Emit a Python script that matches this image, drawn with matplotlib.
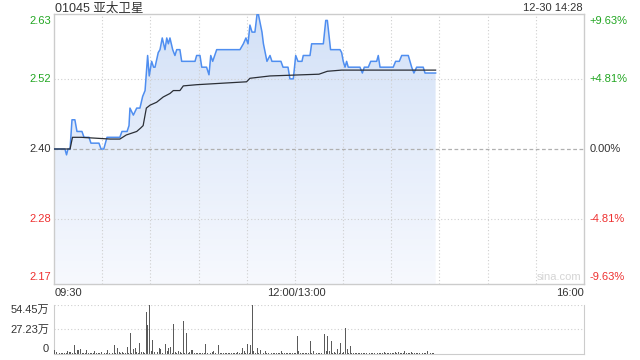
import matplotlib.pyplot as plt
import numpy as np
from matplotlib.colors import LinearSegmentedColormap

plt.rcParams['font.family'] = ['Liberation Sans', 'Noto Sans CJK SC']

title = '01045 亚太卫星'
stamp = '12-30 14:28'
prev_close = 2.40
price_ticks = [2.63, 2.52, 2.40, 2.28, 2.17]
pct_labels = ['+9.63%', '+4.81%', '0.00%', '-4.81%', '-9.63%']
time_labels = ['09:30', '12:00/13:00', '16:00']

# minutes from 09:30 (lunch break removed), price in HKD
price_t = [0, 6.8, 7.8, 8.7, 10, 11.2, 13, 14.3, 17.4, 18.7, 21.8, 23, 28, 29.3, 31, 33,
           41, 42.3, 45.5, 46.7, 47.3, 49.4, 51.5, 53.5, 55.2, 56.7, 58.3, 59.3, 60.8, 62,
           62.9, 64.9, 66, 67.4, 69.1, 70.2, 71.2, 72.2, 73.9, 75.3, 76.4, 78.4, 79.5, 87.8,
           88.8, 90.9, 92, 95, 96.5, 97.6, 98.8, 101.3, 115.8, 117.9, 119.5, 120.8, 122,
           123.3, 125.1, 126.4, 127.3, 129.5, 130.4, 132.6, 134.5, 135.7, 141.3, 142.6, 145.7,
           146.9, 149, 150.5, 151.9, 154.4, 155.2, 159.4, 160.4, 167.7, 169.2, 170.2, 172.2,
           178.1, 179.1, 180.1, 181.2, 182.2, 183.2, 190.5, 192, 193.2, 195.7, 197.2, 200.9,
           201.9, 203, 211.2, 212.7, 215, 216.5, 220.6, 222.7, 224.1, 225.8, 229.9, 231, 237.6]
price_v = [2.40, 2.40, 2.39, 2.40, 2.40, 2.45, 2.45, 2.43, 2.43, 2.42, 2.42, 2.41, 2.41, 2.40, 2.40, 2.42,
           2.42, 2.43, 2.43, 2.44, 2.47, 2.458, 2.47, 2.47, 2.49, 2.50, 2.56, 2.525, 2.55, 2.54,
           2.54, 2.565, 2.57, 2.59, 2.57, 2.59, 2.58, 2.59, 2.57, 2.56, 2.57, 2.57, 2.55, 2.55,
           2.56, 2.56, 2.54, 2.54, 2.527, 2.56, 2.55, 2.57, 2.57, 2.58, 2.59, 2.58, 2.612,
           2.60, 2.60, 2.63, 2.63, 2.60, 2.58, 2.55, 2.56, 2.55, 2.55, 2.54, 2.54,
           2.52, 2.52, 2.56, 2.55, 2.55, 2.56, 2.56, 2.58, 2.58, 2.62, 2.62, 2.57,
           2.57, 2.565, 2.55, 2.54, 2.55, 2.54, 2.54, 2.53, 2.54, 2.54, 2.55, 2.55,
           2.56, 2.54, 2.54, 2.55, 2.55, 2.56, 2.56, 2.54, 2.53, 2.54, 2.54, 2.53, 2.53]

avg_t = [0, 10, 11.5, 17, 35, 41, 45, 51.5, 54, 55.5, 57.5, 59.8, 63.9, 68, 72.2, 74.3,
         78.4, 80.5, 88.8, 119.9, 122, 134.5, 165, 170.2, 179.1, 237.6]
avg_v = [2.40, 2.40, 2.42, 2.42, 2.417, 2.417, 2.424, 2.43, 2.436, 2.44, 2.47, 2.475, 2.48, 2.489, 2.495, 2.50,
         2.50, 2.508, 2.51, 2.515, 2.521, 2.525, 2.528, 2.533, 2.535, 2.535]

# volume per minute, in 万 shares
volume = [5, 2, 2, 0.8, 1.5, 0.8, 1.5, 0.8, 3, 2.5, 2.5, 0.8, 10, 0.8, 4, 5, 6, 0.8, 1.5, 0.8,
          5, 0.8, 1.5, 0.8, 0.8, 3, 0.8, 1.5, 0.8, 2.5, 0.8, 1.5, 0.8, 5, 0.8, 2, 0.8, 10, 0.8, 7,
          2, 0.8, 2, 0.8, 0.8, 8, 0.8, 23.7, 0.8, 6, 7, 2, 0.8, 12, 2, 2, 0.8, 47, 32, 54.45,
          3, 16, 2, 1.5, 2, 7, 6, 0.8, 12.7, 11, 3, 7, 8, 0.8, 33.3, 2, 0.8, 3, 2, 0.8,
          36.7, 0.8, 23.7, 0.8, 2, 5, 4, 0.8, 1, 1, 0.8, 1, 1.5, 0.8, 11, 0.8, 2, 0.8, 2, 3,
          0.8, 0.8, 10, 1.5, 0.8, 1, 0.8, 0.8, 1, 0.8, 1, 1, 0.8, 0.8, 2, 0.8, 0.8, 7, 3, 0.8,
          11, 0.8, 10, 54.45, 3, 0.8, 7, 0.8, 4, 5, 0.8, 3, 0.8, 1.5, 2, 0.8, 1, 0.8, 1, 0.8,
          0.8, 3, 0.8, 1, 0.8, 0.8, 1, 0.8, 0.8, 1.5, 0.8, 20, 3, 0.8, 1.5, 0.8, 1.5, 0.8, 0.8, 14.4,
          0.8, 3, 1, 0.8, 1, 0.8, 0.8, 0.8, 22, 3, 19.5, 3, 14, 0.8, 2, 0.8, 6, 0.8, 12.7, 0.8,
          2, 28.5, 6, 0.8, 8.6, 0.8, 1.5, 0.8, 1, 0.8, 1, 0.8, 0.8, 1, 0.8, 1.5, 0.8, 1, 0.8, 0.8,
          1.5, 0.8, 1, 0.8, 0.8, 2, 0.8, 0.8, 1.5, 0.8, 0.8, 1, 2, 0.8, 2, 0.8, 1.5, 0.8, 3, 0.8,
          0.8, 0.8, 2, 0.8, 1, 0.8, 0.8, 1, 0.8, 0.8, 0.8, 1, 3, 2, 1, 0.8, 1]
vol_ticks = [54.45, 27.23, 0]
vol_labels = ['54.45万', '27.23万', '0']

green = '#22a622'
red = '#ee3030'
dark = '#333333'
grid = '#cfcfcf'

fig = plt.figure(figsize=(6.4, 3.6), dpi=100)
W, H = 640, 360


def box(l, t, r, b):
    return [l / W, 1 - b / H, (r - l) / W, (b - t) / H]


ax = fig.add_axes(box(54, 14, 584, 284))
ax.set_xticks([])
ax.set_yticks([])
for s in ax.spines.values():
    s.set_color('#cccccc')
    s.set_linewidth(1)

# gradient fill under price line
poly = ax.fill_between(price_t, price_v, 2.169, color='none', lw=0)
cmap = LinearSegmentedColormap.from_list('fill', ['#f7f9fe', '#d3e1f7'])
grad = np.linspace(0, 1, 256).reshape(-1, 1)
img = ax.imshow(grad, cmap=cmap, origin='lower', aspect='auto',
                extent=[0, price_t[-1], 2.169, 2.631], zorder=1)
img.set_clip_path(poly.get_paths()[0], transform=ax.transData)
ax.set_xlim(0, 330)
ax.set_ylim(2.169, 2.631)

for t in range(30, 330, 30):
    ax.axvline(t, color=grid, lw=0.8, ls=(0, (1, 2)), zorder=2)
for p in [2.52, 2.28]:
    ax.axhline(p, color=grid, lw=0.8, ls=(0, (1, 2)), zorder=2)
ax.axhline(prev_close, color='#b0b0b0', lw=0.9, ls=(0, (3, 2)), zorder=2)

ax.plot(price_t, price_v, color='#4f8ef0', lw=1.1, zorder=3)
ax.plot(avg_t, avg_v, color='#2b2f36', lw=0.9, zorder=4)

ytr = ax.get_yaxis_transform()
colors = [green, green, dark, red, red]
vas = ['top', 'center', 'center', 'center', 'bottom']
offs = [-0.003, 0, 0, 0, 0.003]
for p, lab, c, va, o in zip(price_ticks, pct_labels, colors, vas, offs):
    ax.text(-0.006, p + o, f'{p:.2f}', transform=ytr, ha='right', va=va, color=c, fontsize=8)
    ax.text(1.011, p + o, lab, transform=ytr, ha='left', va=va, color=c, fontsize=8)

ax.text(0.952, 0.025, 'sina.com', transform=ax.transAxes, ha='center', va='center',
        color='#d4d4d4', fontsize=8, zorder=5)

fig.text(55 / W, 1 - 9 / H, title, ha='left', va='center', color=dark, fontsize=9)
fig.text(583 / W, 1 - 8 / H, stamp, ha='right', va='center', color=dark, fontsize=8)

fig.text(55 / W, 1 - 293 / H, time_labels[0], ha='left', va='center', color=dark, fontsize=8)
fig.text(296 / W, 1 - 293 / H, time_labels[1], ha='center', va='center', color=dark, fontsize=8)
fig.text(584 / W, 1 - 293 / H, time_labels[2], ha='right', va='center', color=dark, fontsize=8)

vax = fig.add_axes(box(54, 305, 584, 354))
vax.set_xlim(0, 330)
vax.set_ylim(0, 54.45)
vax.set_xticks([])
vax.set_yticks([])
for s in ['left', 'right', 'bottom']:
    vax.spines[s].set_color('#cccccc')
vax.spines['top'].set_visible(False)
vax.axhline(54.45, color=grid, lw=0.8, ls=(0, (1, 2)))
vax.axhline(27.23, color=grid, lw=0.8, ls=(0, (1, 2)))
vax.bar(np.arange(len(volume)) + 0.5, volume, width=0.6, color='#5a5a5a', zorder=3)

vtr = vax.get_yaxis_transform()
for v, lab, va in zip(vol_ticks, vol_labels, ['top', 'center', 'bottom']):
    vax.text(-0.009, v, lab, transform=vtr, ha='right', va=va, color=dark, fontsize=8)

fig.savefig('out.png', dpi=100)
